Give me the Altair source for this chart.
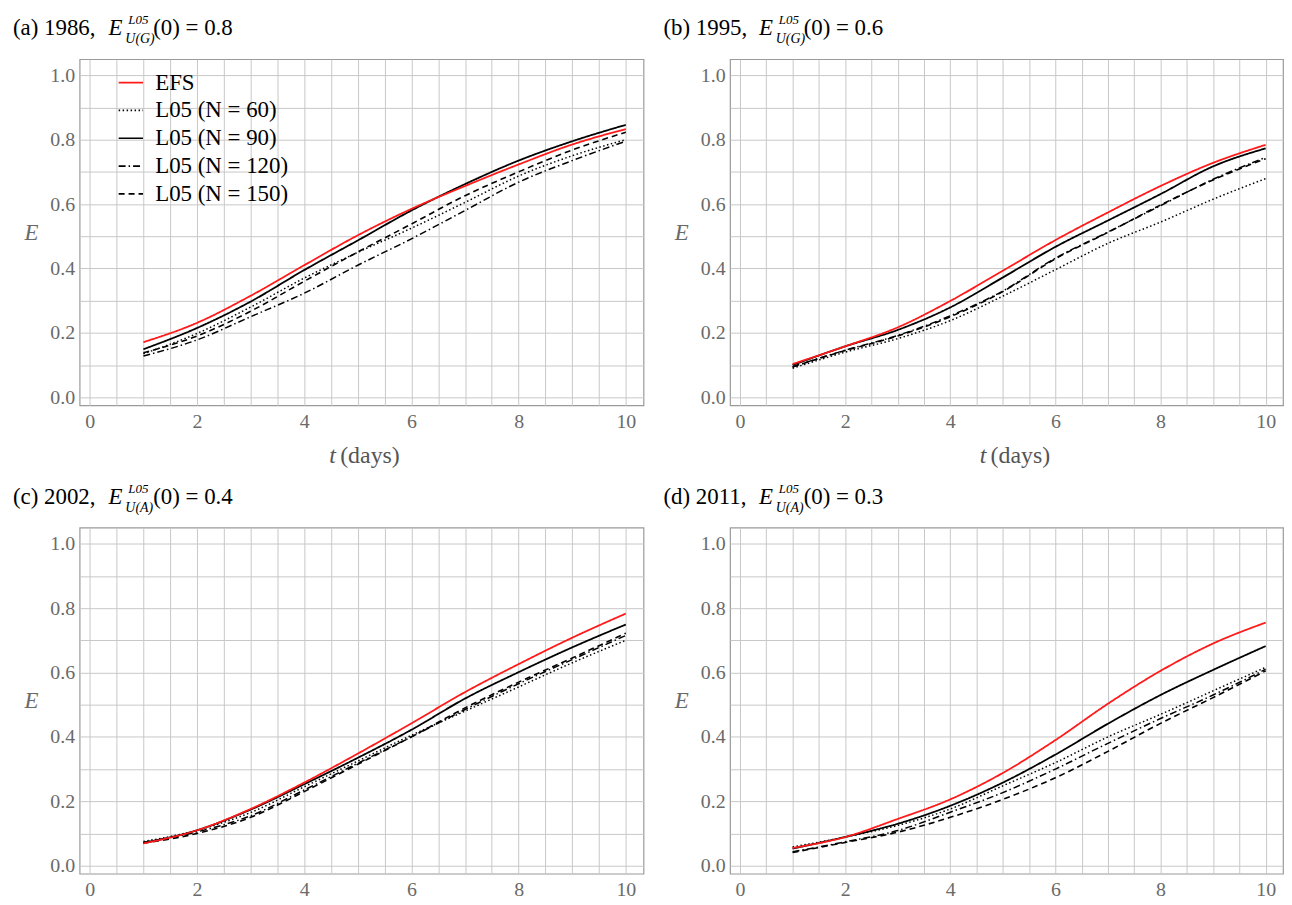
import altair as alt
import pandas as pd

t = [1, 2, 3, 4, 5, 6, 7, 8, 9, 10]
series = ["EFS", "L05 (N = 60)", "L05 (N = 90)", "L05 (N = 120)", "L05 (N = 150)"]

# panel (a) 1986
a_efs = [0.171, 0.231, 0.315, 0.410, 0.503, 0.585, 0.656, 0.723, 0.785, 0.833]
a_n60 = [0.135, 0.198, 0.280, 0.370, 0.450, 0.525, 0.605, 0.687, 0.750, 0.800]
a_n90 = [0.149, 0.215, 0.297, 0.395, 0.487, 0.580, 0.662, 0.735, 0.795, 0.846]
a_n120 = [0.128, 0.178, 0.250, 0.323, 0.410, 0.492, 0.580, 0.668, 0.735, 0.795]
a_n150 = [0.138, 0.190, 0.267, 0.360, 0.451, 0.538, 0.626, 0.700, 0.768, 0.823]
# panel (b) 1995
b_efs = [0.103, 0.158, 0.217, 0.299, 0.393, 0.488, 0.574, 0.656, 0.728, 0.784]
b_n60 = [0.090, 0.140, 0.182, 0.238, 0.314, 0.396, 0.478, 0.544, 0.615, 0.679]
b_n90 = [0.100, 0.158, 0.209, 0.279, 0.372, 0.467, 0.549, 0.631, 0.717, 0.773]
b_n120 = [0.095, 0.146, 0.192, 0.253, 0.330, 0.432, 0.513, 0.595, 0.677, 0.745]
b_n150 = [0.094, 0.145, 0.190, 0.250, 0.328, 0.430, 0.512, 0.597, 0.675, 0.741]
# panel (c) 2002
c_efs = [0.069, 0.110, 0.176, 0.258, 0.348, 0.442, 0.539, 0.626, 0.708, 0.783]
c_n60 = [0.075, 0.110, 0.165, 0.245, 0.325, 0.405, 0.480, 0.555, 0.630, 0.700]
c_n90 = [0.071, 0.110, 0.174, 0.253, 0.335, 0.422, 0.519, 0.601, 0.678, 0.749]
c_n120 = [0.072, 0.105, 0.155, 0.235, 0.318, 0.400, 0.485, 0.565, 0.640, 0.715]
c_n150 = [0.070, 0.100, 0.150, 0.230, 0.315, 0.400, 0.490, 0.570, 0.645, 0.722]
# panel (d) 2011
d_efs = [0.055, 0.089, 0.145, 0.206, 0.288, 0.390, 0.503, 0.605, 0.690, 0.755]
d_n60 = [0.058, 0.089, 0.125, 0.176, 0.248, 0.320, 0.400, 0.470, 0.543, 0.616]
d_n90 = [0.053, 0.089, 0.130, 0.186, 0.258, 0.345, 0.441, 0.530, 0.608, 0.682]
d_n120 = [0.043, 0.074, 0.109, 0.166, 0.227, 0.300, 0.380, 0.457, 0.530, 0.610]
d_n150 = [0.041, 0.072, 0.104, 0.150, 0.206, 0.273, 0.355, 0.442, 0.522, 0.605]

panel_labels = ["(a) 1986,", "(b) 1995,", "(c) 2002,", "(d) 2011,"]
panel_subs = ["U(G)", "U(G)", "U(A)", "U(A)"]
panel_e0 = ["(0) = 0.8", "(0) = 0.6", "(0) = 0.4", "(0) = 0.3"]
panel_data = [
    [a_efs, a_n60, a_n90, a_n120, a_n150],
    [b_efs, b_n60, b_n90, b_n120, b_n150],
    [c_efs, c_n60, c_n90, c_n120, c_n150],
    [d_efs, d_n60, d_n90, d_n120, d_n150],
]

colors = ["#ff1a1a", "#000000", "#000000", "#000000", "#000000"]
dashes = [[1, 0], [1.5, 2.5], [1, 0], [7, 3, 1.5, 3], [6, 4]]
widths = [1.8, 1.5, 1.8, 1.5, 1.6]

xgrid = [i * 0.5 for i in range(21)]
ygrid = [round(i * 0.1, 1) for i in range(11)]

FONT = "Liberation Serif"
H = 348
LABEL_GRAY = "#6a6a6a"


def text_layer(s, x, y, size, style="normal", color="black", align="left"):
    return alt.Chart(pd.DataFrame({"s": [s]})).mark_text(
        font=FONT, fontSize=size, fontStyle=style, color=color,
        align=align, baseline="alphabetic"
    ).encode(x=alt.value(x), y=alt.value(y), text="s:N")


def panel(i, width, show_xtitle, show_legend):
    rows = []
    for k, name in enumerate(series):
        for tt, v in zip(t, panel_data[i][k]):
            rows.append({"t": tt, "E": v, "series": name, "w": widths[k]})
    df = pd.DataFrame(rows)

    leg = alt.Legend(
        orient="none", legendX=38, legendY=10, title=None,
        labelFont=FONT, labelFontSize=23, labelColor="black",
        symbolType="stroke", symbolSize=600, symbolStrokeWidth=1.7,
        labelOffset=11, rowPadding=2, padding=0,
    ) if show_legend else None

    x = alt.X("t:Q", scale=alt.Scale(domain=[-0.19, 10.33], nice=False, zero=False),
              axis=alt.Axis(values=xgrid, title=None, ticks=False, domain=False,
                            labelFont=FONT, labelFontSize=20, labelColor=LABEL_GRAY,
                            labelExpr="datum.value % 2 == 0 ? format(datum.value, 'd') : ''",
                            labelOverlap=False, labelFlush=False, labelPadding=6))
    y = alt.Y("E:Q", scale=alt.Scale(domain=[-0.025, 1.05], nice=False, zero=False),
              axis=alt.Axis(values=ygrid, title="E", titleAngle=0, titleFontStyle="italic",
                            titleFont=FONT, titleFontSize=23, titleColor=LABEL_GRAY,
                            titleX=-49, titleY=H / 2, titleAlign="center", titleBaseline="middle",
                            ticks=False, domain=False,
                            labelFont=FONT, labelFontSize=20, labelColor=LABEL_GRAY,
                            labelExpr="round(datum.value*10) % 2 == 0 ? format(datum.value, '.1f') : ''",
                            labelOverlap=False, labelFlush=False, labelPadding=5))
    color = alt.Color("series:N", scale=alt.Scale(domain=series, range=colors), legend=leg)
    dash = alt.StrokeDash("series:N", scale=alt.Scale(domain=series, range=dashes), legend=leg)
    sw = alt.StrokeWidth("w:Q", scale=None, legend=None)

    base = alt.Chart(df)
    black = base.transform_filter(alt.datum.series != "EFS").mark_line(interpolate="monotone").encode(
        x=x, y=y, color=color, strokeDash=dash, strokeWidth=sw, detail="series:N")
    red = base.transform_filter(alt.datum.series == "EFS").mark_line(interpolate="monotone").encode(
        x=x, y=y, color=color, strokeDash=dash, strokeWidth=sw)

    layers = [black, red,
              text_layer(panel_labels[i], -67, -24, 23),
              text_layer("E", 29, -24, 23, "italic"),
              text_layer("L05", 49, -35, 13, "italic"),
              text_layer(panel_subs[i], 46, -16, 14, "italic"),
              text_layer(panel_e0[i], 74, -24, 23)]
    if show_xtitle:
        layers += [text_layer("t", 251, H + 58, 24, "italic", "#555555"),
                   text_layer("(days)", 262, H + 58, 24, "normal", "#555555")]
    return alt.layer(*layers).properties(width=width, height=H)


a = panel(0, 567, True, True)
b = panel(1, 556, True, False)
c = panel(2, 567, False, False)
d = panel(3, 556, False, False)

row1 = alt.hconcat(a, b, spacing=18).resolve_scale(color="independent", strokeDash="independent")
row2 = alt.hconcat(c, d, spacing=18).resolve_scale(color="independent", strokeDash="independent")

chart = alt.vconcat(row1, row2, spacing=13).resolve_scale(
    color="independent", strokeDash="independent"
).properties(
    padding={"left": 4, "top": 3, "right": 0, "bottom": 0}
).configure_view(
    stroke="#9a9a9a", strokeWidth=1.2
).configure_axis(
    grid=True, gridColor="#c8c8c8", gridWidth=1,
    labelFont=FONT, labelFontSize=20, labelColor=LABEL_GRAY,
    titleFont=FONT, titleFontSize=23, titleColor=LABEL_GRAY, titleFontWeight="normal"
)

chart.save("out.html", embed_options={"renderer": "svg", "actions": False})
